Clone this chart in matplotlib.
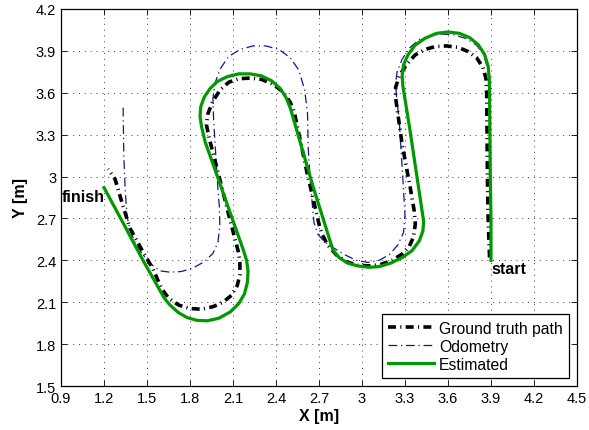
import numpy as np
import matplotlib
matplotlib.use('Agg')
import matplotlib.pyplot as plt

plt.rcParams['font.family'] = ['Liberation Sans', 'DejaVu Sans']

# ground truth path (x, y) from start to finish
gt_x = [3.89, 3.88, 3.875, 3.87, 3.865, 3.845, 3.80, 3.74, 3.67, 3.59, 3.51, 3.44, 3.37, 3.31,
        3.26, 3.235, 3.235, 3.28, 3.335, 3.365, 3.372, 3.36, 3.33, 3.28, 3.21, 3.13, 3.05, 2.97,
        2.89, 2.82, 2.76, 2.72, 2.70, 2.616, 2.53, 2.50, 2.45, 2.38, 2.30, 2.22, 2.14, 2.07, 2.01,
        1.96, 1.925, 1.915, 1.93, 1.988, 2.079, 2.14, 2.148, 2.148, 2.13, 2.09, 2.03, 1.96, 1.88,
        1.80, 1.72, 1.65, 1.60, 1.542, 1.472, 1.381, 1.332, 1.277, 1.228]
gt_y = [2.42, 2.7, 3.0, 3.6, 3.70, 3.78, 3.85, 3.895, 3.925, 3.935, 3.93, 3.91, 3.87, 3.80,
        3.72, 3.64, 3.56, 3.23, 2.93, 2.75, 2.66, 2.57, 2.50, 2.445, 2.40, 2.37, 2.36, 2.365,
        2.39, 2.44, 2.51, 2.59, 2.66, 3.03, 3.45, 3.53, 3.605, 3.66, 3.695, 3.705, 3.70, 3.675, 3.62,
        3.54, 3.45, 3.37, 3.29, 3.06, 2.69, 2.45, 2.38, 2.30, 2.22, 2.15, 2.10, 2.068, 2.05,
        2.055, 2.08, 2.13, 2.20, 2.338, 2.46, 2.63, 2.79, 2.982, 3.054]

# odometry
odo_x = [3.9, 3.895, 3.89, 3.88, 3.85, 3.80, 3.72, 3.64, 3.56, 3.48, 3.40, 3.33, 3.28, 3.245,
         3.235, 3.24, 3.26, 3.275, 3.29, 3.30, 3.29, 3.25, 3.19, 3.12, 3.04, 2.96, 2.88, 2.80,
         2.74, 2.69, 2.665, 2.655, 2.64, 2.625, 2.62, 2.60, 2.56, 2.50, 2.42, 2.33, 2.24, 2.15,
         2.07, 2.01, 1.975, 1.96, 1.965, 1.98, 1.995, 2.005, 2.008, 1.995, 1.96, 1.90, 1.82, 1.74,
         1.66, 1.59, 1.53, 1.47, 1.42, 1.38, 1.36, 1.348, 1.338, 1.333]
odo_y = [2.42, 3.0, 3.6, 3.76, 3.87, 3.94, 3.99, 4.015, 4.02, 4.01, 3.98, 3.92, 3.84, 3.75,
         3.67, 3.58, 3.40, 3.15, 2.90, 2.72, 2.60, 2.51, 2.44, 2.40, 2.385, 2.40, 2.44, 2.49,
         2.53, 2.59, 2.67, 2.78, 2.95, 3.2, 3.45, 3.62, 3.76, 3.85, 3.91, 3.935, 3.935, 3.91,
         3.86, 3.77, 3.67, 3.56, 3.40, 3.15, 2.91, 2.78, 2.65, 2.53, 2.45, 2.39, 2.345, 2.32,
         2.315, 2.325, 2.37, 2.44, 2.52, 2.62, 2.72, 2.9, 3.15, 3.52]

# estimated path
est_x = [3.9, 3.9, 3.895, 3.89, 3.888, 3.88, 3.855, 3.81, 3.75, 3.68, 3.60, 3.52, 3.44, 3.37,
         3.32, 3.29, 3.28, 3.285, 3.335, 3.43, 3.425, 3.40, 3.35, 3.28, 3.20, 3.12, 3.05, 2.97,
         2.90, 2.84, 2.80, 2.78, 2.658, 2.50, 2.47, 2.43, 2.37, 2.30, 2.22, 2.14, 2.06, 1.99,
         1.94, 1.90, 1.875, 1.87, 1.88, 1.905, 1.988, 2.058, 2.17, 2.195, 2.205, 2.20, 2.18, 2.14,
         2.08, 2.0, 1.92, 1.85, 1.78, 1.72, 1.66, 1.62, 1.472, 1.345, 1.2]
est_y = [2.4, 2.7, 3.0, 3.6, 3.70, 3.79, 3.875, 3.945, 3.995, 4.025, 4.035, 4.025, 3.99, 3.94,
         3.87, 3.80, 3.72, 3.65, 3.33, 2.68, 2.61, 2.54, 2.47, 2.42, 2.38, 2.355, 2.35, 2.36,
         2.38, 2.42, 2.47, 2.53, 2.93, 3.49, 3.565, 3.63, 3.685, 3.72, 3.735, 3.735, 3.715, 3.68,
         3.63, 3.57, 3.50, 3.43, 3.36, 3.25, 3.01, 2.805, 2.48, 2.40, 2.32, 2.24, 2.16, 2.09,
         2.03, 1.985, 1.967, 1.97, 1.99, 2.025, 2.08, 2.13, 2.40, 2.645, 2.92]

xticks = [0.9, 1.2, 1.5, 1.8, 2.1, 2.4, 2.7, 3.0, 3.3, 3.6, 3.9, 4.2, 4.5]
xticklabels = ['0.9', '1.2', '1.5', '1.8', '2.1', '2.4', '2.7', '3', '3.3', '3.6', '3.9', '4.2', '4.5']
yticks = [1.5, 1.8, 2.1, 2.4, 2.7, 3.0, 3.3, 3.6, 3.9, 4.2]
yticklabels = ['1.5', '1.8', '2.1', '2.4', '2.7', '3', '3.3', '3.6', '3.9', '4.2']

fig = plt.figure(figsize=(5.89, 4.31), dpi=100)
ax = fig.add_axes([0.1036, 0.102, 0.876, 0.875])

ax.plot(gt_x, gt_y, color='black', lw=2.6, linestyle=(0, (2.2, 1.2, 0.3, 1.2)),
        label='Ground truth path', zorder=3, solid_joinstyle='round')
ax.plot(odo_x, odo_y, color=(0.08, 0.08, 0.6), lw=0.9, linestyle=(0, (7, 3, 1, 3)),
        label='Odometry', zorder=2)
ax.plot(est_x, est_y, color=(0.0, 0.6, 0.0), lw=2.3, label='Estimated', zorder=4,
        solid_joinstyle='round')

ax.text(0.905, 2.86, 'finish', fontsize=11.5, fontweight='bold', va='center', ha='left')
ax.text(3.905, 2.34, 'start', fontsize=11.5, fontweight='bold', va='center', ha='left')

ax.set_xlim(0.9, 4.5)
ax.set_ylim(1.5, 4.2)
ax.set_xticks(xticks)
ax.set_xticklabels(xticklabels)
ax.set_yticks(yticks)
ax.set_yticklabels(yticklabels)
ax.tick_params(direction='in', top=True, right=True, labelsize=10.5, length=4, width=0.6)
ax.grid(True, color='0.25', linestyle=(0, (1, 5)), lw=0.7)
for s in ax.spines.values():
    s.set_linewidth(0.9)

ax.set_xlabel('X [m]', fontsize=11.5, fontweight='bold', labelpad=2)
ax.set_ylabel('Y [m]', fontsize=11.5, fontweight='bold', labelpad=6)

leg = ax.legend(loc='lower right', fontsize=11.3, fancybox=False, framealpha=1,
                edgecolor='black', borderpad=0.4, labelspacing=0.2, handlelength=2.9,
                handletextpad=0.35, borderaxespad=0.5)
leg.get_frame().set_linewidth(0.9)

fig.savefig('out.png', dpi=100)
